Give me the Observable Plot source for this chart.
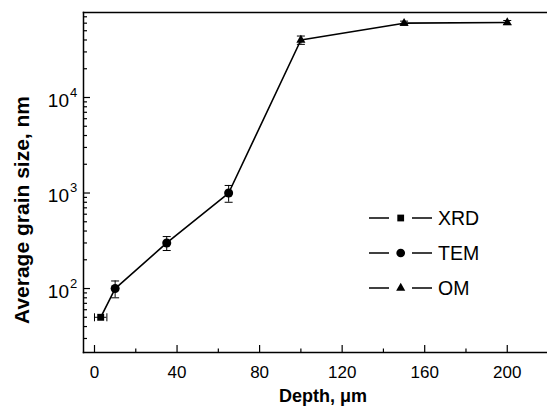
<!DOCTYPE html>
<html><head><meta charset="utf-8">
<script src="https://cdn.jsdelivr.net/npm/d3@7"></script>
<script src="https://cdn.jsdelivr.net/npm/@observablehq/plot@0.6"></script>
<style>
html,body{margin:0;padding:0;background:#fff;}
#chart{position:relative;width:547px;height:414px;}
svg{font-family:"Liberation Sans",Arial,Helvetica,sans-serif;}
</style></head><body><div id="chart"></div>
<script>
// ---- data ----
const xrdDepth = [3];
const xrdSize  = [50];
const xrdErr   = [3];          // horizontal error (µm)
const temDepth = [10, 35, 65];
const temSize  = [100, 300, 1000];
const temErr   = [20, 50, 200];
const omDepth  = [100, 150, 200];
const omSize   = [40000, 60000, 61000];
const omErr    = [4000, 3000, 3000];
// ---- ticks / text ----
const xTicks = [0, 40, 80, 120, 160, 200];
const xMinor = [20, 60, 100, 140, 180];
const yTicks = [100, 1000, 10000];
const yExp   = ["2", "3", "4"];
const yMinor = [30, 40, 50, 60, 70, 80, 90,
                200, 300, 400, 500, 600, 700, 800, 900,
                2000, 3000, 4000, 5000, 6000, 7000, 8000, 9000,
                20000, 30000, 40000, 50000, 60000, 70000];
const xTitle = "Depth, \u03bcm";
const yTitle = "Average grain size, nm";
const legendNames = ["XRD", "TEM", "OM"];
const legendSymbols = ["square", "circle", "triangle"];
const xDomain = [-5.33, 219.5];
const yDomain = [21.4, 77600];

// ---- build tables ----
const xrd = xrdDepth.map((d, i) => ({depth: d, size: xrdSize[i], err: xrdErr[i]}));
const tem = temDepth.map((d, i) => ({depth: d, size: temSize[i], err: temErr[i]}));
const om  = omDepth.map((d, i) => ({depth: d, size: omSize[i], err: omErr[i]}));
const all = [...xrd, ...tem, ...om].sort((a, b) => a.depth - b.depth);

const capH = {draw(ctx) { ctx.moveTo(-4, 0); ctx.lineTo(4, 0); }};
const capV = {draw(ctx) { ctx.moveTo(0, -4); ctx.lineTo(0, 4); }};
const tickFont = 17;

const plot = Plot.plot({
  width: 547, height: 414,
  marginLeft: 83, marginRight: 0, marginTop: 12, marginBottom: 62,
  x: {domain: xDomain, axis: null},
  y: {type: "log", domain: yDomain, axis: null},
  style: {background: "white", color: "black", overflow: "visible"},
  marks: [
    Plot.frame({anchor: "left", strokeWidth: 1.5}),
    Plot.frame({anchor: "top", strokeWidth: 1.5}),
    Plot.frame({anchor: "bottom", strokeWidth: 1.5}),
    // x ticks (inward)
    Plot.axisX({ticks: xTicks, tickSize: -7, tickFormat: () => "", strokeWidth: 1.2, label: null}),
    Plot.axisX({ticks: xMinor, tickSize: -3.5, tickFormat: () => "", strokeWidth: 1.2, label: null}),
    Plot.axisX({ticks: xTicks, tickSize: 0, tickPadding: 13, fontSize: tickFont, tickFormat: d => String(d), label: null}),
    // y ticks (inward)
    Plot.axisY({ticks: yTicks, tickSize: -7, tickFormat: () => "", strokeWidth: 1.2, label: null}),
    Plot.axisY({ticks: yMinor, tickSize: -4, tickFormat: () => "", strokeWidth: 1.2, label: null}),
    Plot.text(yTicks, {y: d => d, frameAnchor: "left", text: () => "10", textAnchor: "end", dx: -14.5, dy: 3, fontSize: tickFont + 2}),
    Plot.text(yTicks, {y: d => d, frameAnchor: "left", text: (d, i) => yExp[i], textAnchor: "start", dx: -13.5, dy: -5, fontSize: 13}),
    // line
    Plot.line(all, {x: "depth", y: "size", stroke: "black", strokeWidth: 1.6}),
    // error bars
    Plot.ruleX([...tem, ...om], {x: "depth", y1: d => d.size - d.err, y2: d => d.size + d.err, stroke: "black", strokeWidth: 1}),
    Plot.dot([...tem, ...om], {x: "depth", y: d => d.size - d.err, symbol: capH, stroke: "black", strokeWidth: 1}),
    Plot.dot([...tem, ...om], {x: "depth", y: d => d.size + d.err, symbol: capH, stroke: "black", strokeWidth: 1}),
    Plot.ruleY(xrd, {y: "size", x1: d => d.depth - d.err, x2: d => d.depth + d.err, stroke: "black", strokeWidth: 1}),
    Plot.dot(xrd, {x: d => d.depth - d.err, y: "size", symbol: capV, stroke: "black", strokeWidth: 1}),
    Plot.dot(xrd, {x: d => d.depth + d.err, y: "size", symbol: capV, stroke: "black", strokeWidth: 1}),
    // markers
    Plot.dot(xrd, {x: "depth", y: "size", symbol: "square", r: 3.9, fill: "black"}),
    Plot.dot(tem, {x: "depth", y: "size", symbol: "circle", r: 4.5, fill: "black"}),
    Plot.dot(om, {x: "depth", y: "size", symbol: "triangle", r: 3.4, fill: "black"})
  ]
});
document.getElementById("chart").appendChild(plot);

const svg = d3.select(plot);
// ---- axis titles ----
svg.append("text").attr("x", 323).attr("y", 402).attr("text-anchor", "middle")
  .attr("font-size", 18).attr("font-weight", "bold").attr("fill", "black").text(xTitle);
svg.append("text").attr("transform", "translate(29,210) rotate(-90)").attr("text-anchor", "middle")
  .attr("font-size", 21).attr("font-weight", "bold").attr("fill", "black").text(yTitle);

// ---- legend (layout only) ----
const lg = svg.append("g").attr("class", "legend");
const rowY = [218, 253, 288];
legendNames.forEach((name, i) => {
  const g = lg.append("g").attr("transform", `translate(0,${rowY[i]})`);
  g.append("line").attr("x1", 369).attr("x2", 389).attr("stroke", "black").attr("stroke-width", 1.5);
  g.append("line").attr("x1", 412).attr("x2", 432).attr("stroke", "black").attr("stroke-width", 1.5);
  const sym = {square: d3.symbolSquare, circle: d3.symbolCircle, triangle: d3.symbolTriangle}[legendSymbols[i]];
  const size = {square: 46, circle: 60, triangle: 36}[legendSymbols[i]];
  g.append("path").attr("d", d3.symbol(sym, size)()).attr("transform", "translate(400.7,0)").attr("fill", "black");
  g.append("text").attr("x", 438).attr("dy", "0.36em").attr("text-anchor", "start")
    .attr("font-size", 19.5).attr("fill", "black").text(name);
});
</script></body></html>
